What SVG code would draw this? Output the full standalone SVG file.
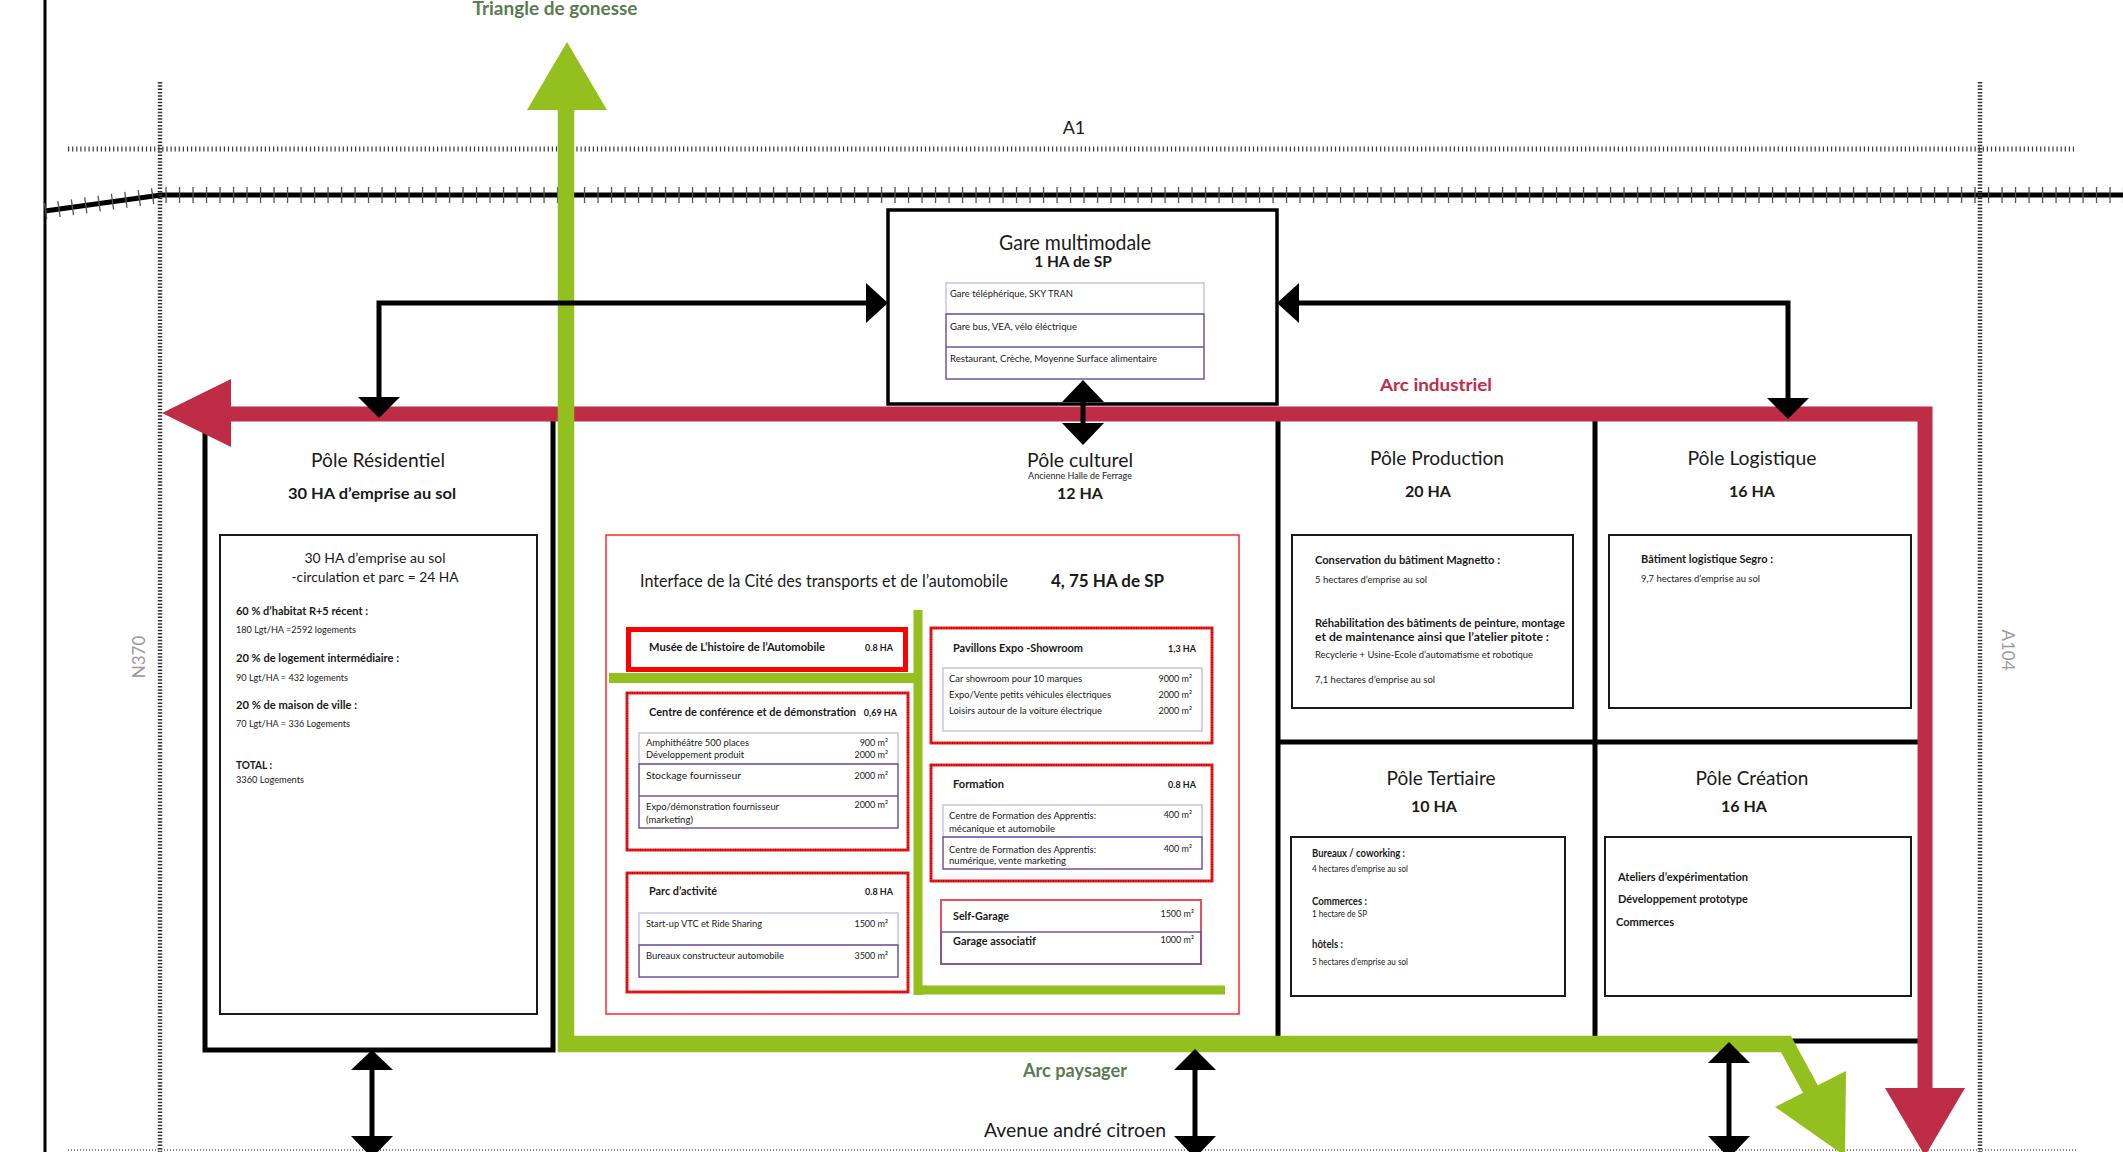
<svg xmlns="http://www.w3.org/2000/svg" width="2123" height="1152" viewBox="0 0 2123 1152">
<defs>
<style>
text{font-family:Lato,"Open Sans","Liberation Sans",sans-serif;fill:#1a1a1a}
.c{text-anchor:middle}
.e{text-anchor:end}
.t{font-size:19px}
.h{font-size:16px;font-weight:bold}
.lb{font-size:10.5px;font-weight:bold}
.s{font-size:9px}
.grn{fill:#5b7b52;font-weight:bold}
.wall{stroke:#000;stroke-width:5;fill:none}
.ibox{fill:#fff;stroke:#1a1a1a;stroke-width:2}
.rbox{fill:#fff;stroke:#f41c1c;stroke-width:3}
.rdot{fill:none;stroke:#6a0000;stroke-width:1;stroke-dasharray:1 1.5}
.tab{fill:#fff;stroke:#c9c3e3;stroke-width:1.5}
.tabp{fill:none;stroke:#6f559e;stroke-width:1.5}
.arr{stroke:#000;stroke-width:5;fill:none}
.hd{fill:#000}
.gl{stroke:#93c01f;fill:none}
.red{stroke:#be2d45;fill:none}
.road{fill:none}
</style>
</defs>
<rect x="0" y="0" width="2123" height="1152" fill="#fff"/>

<g id="roads">
  <line x1="45" y1="0" x2="45" y2="1152" stroke="#000" stroke-width="3"/>
  <path d="M45,211 L161,195 H2123" stroke="#000" stroke-width="5" class="road"/>
  <path d="M45,211 L161,195 H2123" stroke="#555" stroke-width="16" stroke-dasharray="1.3 12.2" class="road"/>
  <line x1="68" y1="149" x2="2074" y2="149" stroke="#3a3a3a" stroke-width="5" stroke-dasharray="1.2 2.9"/>
  <line x1="160" y1="82" x2="160" y2="1152" stroke="#333" stroke-width="4.5" stroke-dasharray="1.5 1.8"/>
  <line x1="1980" y1="82" x2="1980" y2="1152" stroke="#333" stroke-width="4.5" stroke-dasharray="1.5 1.8"/>
  <line x1="68" y1="1150" x2="2077" y2="1150" stroke="#888" stroke-width="2" stroke-dasharray="1 2"/>
  <text x="1074" y="134" class="c" font-size="18">A1</text>
  <text x="1075" y="1137" class="c" font-size="20" textLength="182" lengthAdjust="spacingAndGlyphs">Avenue andré citroen</text>
  <text transform="translate(145,657) rotate(-90)" class="c" font-size="17" style="fill:#9a9a9a">N370</text>
  <text transform="translate(2002,650) rotate(90)" class="c" font-size="17" style="fill:#9a9a9a">A104</text>
</g>

<g id="walls">
  <rect id="pole-residentiel-frame" x="205" y="418" width="348" height="632" class="wall"/>
  <line x1="1278" y1="420" x2="1278" y2="1037" class="wall"/>
  <line x1="1595" y1="420" x2="1595" y2="1037" class="wall"/>
  <line x1="1278" y1="742" x2="1918" y2="742" class="wall"/>
  <line x1="1787" y1="1041" x2="1918" y2="1041" class="wall"/>
</g>

<g id="gare-multimodale">
  <rect x="888" y="210" width="389" height="194" fill="#fff" stroke="#000" stroke-width="3.5"/>
  <text x="1075" y="250" class="c" font-size="21.5" textLength="152" lengthAdjust="spacingAndGlyphs">Gare multimodale</text>
  <text x="1073" y="267" class="c" font-size="15.5" font-weight="bold">1 HA de SP</text>
  <rect x="946" y="283" width="258" height="31" class="tab"/>
  <rect x="946" y="314" width="258" height="65" class="tabp"/>
  <line x1="946" y1="347" x2="1204" y2="347" class="tabp"/>
  <text x="950" y="297" class="s" textLength="123" lengthAdjust="spacingAndGlyphs">Gare téléphérique, SKY TRAN</text>
  <text x="950" y="330" class="s" textLength="127" lengthAdjust="spacingAndGlyphs">Gare bus, VEA, vélo éléctrique</text>
  <text x="950" y="362" class="s" textLength="207" lengthAdjust="spacingAndGlyphs">Restaurant, Crèche, Moyenne Surface alimentaire</text>
</g>

<g id="pole-residentiel">
  <text x="378" y="467" class="c" font-size="20" textLength="134" lengthAdjust="spacingAndGlyphs">Pôle Résidentiel</text>
  <text x="372" y="499" class="c" font-size="15.5" font-weight="bold" textLength="168" lengthAdjust="spacingAndGlyphs">30 HA d’emprise au sol</text>
  <rect x="220" y="535" width="317" height="479" class="ibox"/>
  <text x="375" y="563" class="c" font-size="13.5" textLength="141" lengthAdjust="spacingAndGlyphs">30 HA d’emprise au sol</text>
  <text x="375" y="582" class="c" font-size="13.5" textLength="167" lengthAdjust="spacingAndGlyphs">-circulation et parc = 24 HA</text>
  <text x="236" y="615" class="lb" textLength="132" lengthAdjust="spacingAndGlyphs">60 % d’habitat R+5 récent :</text>
  <text x="236" y="633" class="s" textLength="120" lengthAdjust="spacingAndGlyphs">180 Lgt/HA =2592 logements</text>
  <text x="236" y="662" class="lb" textLength="163" lengthAdjust="spacingAndGlyphs">20 % de logement intermédiaire :</text>
  <text x="236" y="681" class="s" textLength="112" lengthAdjust="spacingAndGlyphs">90 Lgt/HA = 432 logements</text>
  <text x="236" y="709" class="lb" textLength="121" lengthAdjust="spacingAndGlyphs">20 % de maison de ville :</text>
  <text x="236" y="727" class="s" textLength="114" lengthAdjust="spacingAndGlyphs">70 Lgt/HA = 336 Logements</text>
  <text x="236" y="769" class="lb" textLength="36" lengthAdjust="spacingAndGlyphs">TOTAL :</text>
  <text x="236" y="783" class="s" textLength="68" lengthAdjust="spacingAndGlyphs">3360 Logements</text>
</g>

<g id="pole-culturel">
  <text x="1080" y="467" class="c t" textLength="106" lengthAdjust="spacingAndGlyphs">Pôle culturel</text>
  <text x="1080" y="479" class="c s">Ancienne Halle de Ferrage</text>
  <text x="1080" y="499" class="c h">12 HA</text>
  <rect x="606" y="535" width="633" height="479" fill="none" stroke="#ff2a2a" stroke-width="1.5"/>
  <text x="640" y="587" font-size="17" textLength="368" lengthAdjust="spacingAndGlyphs">Interface de la Cité des transports et de l’automobile</text>
  <text x="1051" y="587" font-size="16.5" font-weight="bold" textLength="113" lengthAdjust="spacingAndGlyphs">4, 75 HA de SP</text>
  <line x1="918" y1="610" x2="918" y2="995" class="gl" stroke-width="9"/>
  <line x1="609" y1="678" x2="918" y2="678" class="gl" stroke-width="10"/>
  <line x1="914" y1="990" x2="1225" y2="990" class="gl" stroke-width="9"/>
</g>

<g id="musee">
  <rect x="628.5" y="629.5" width="277" height="40" fill="#fff" stroke="#ff0000" stroke-width="5"/>
  <text x="649" y="651" class="lb" textLength="176" lengthAdjust="spacingAndGlyphs">Musée de L’histoire de l’Automobile</text>
  <text x="893" y="651" class="e" font-size="9" font-weight="bold">0.8 HA</text>
</g>

<g id="centre-conference">
  <rect x="627" y="693" width="281" height="157" class="rbox"/>
  <rect x="627" y="693" width="281" height="157" class="rdot"/>
  <text x="649" y="716" class="lb" textLength="207" lengthAdjust="spacingAndGlyphs">Centre de conférence et de démonstration</text>
  <text x="897" y="716" class="e" font-size="9" font-weight="bold">0,69 HA</text>
  <rect x="639" y="733" width="259" height="31" class="tab"/>
  <rect x="639" y="764" width="259" height="64" class="tabp"/>
  <line x1="639" y1="796" x2="898" y2="796" class="tabp"/>
  <text x="646" y="746" class="s" textLength="103" lengthAdjust="spacingAndGlyphs">Amphithéâtre 500 places</text>
  <text x="646" y="758" class="s" textLength="98" lengthAdjust="spacingAndGlyphs">Développement produit</text>
  <text x="646" y="779" class="s" textLength="95" lengthAdjust="spacingAndGlyphs">Stockage fournisseur</text>
  <text x="646" y="810" class="s" textLength="133" lengthAdjust="spacingAndGlyphs">Expo/démonstration fournisseur</text>
  <text x="646" y="823" class="s" textLength="47" lengthAdjust="spacingAndGlyphs">(marketing)</text>
  <text x="888" y="746" class="e s">900 m²</text>
  <text x="888" y="758" class="e s">2000 m²</text>
  <text x="888" y="779" class="e s">2000 m²</text>
  <text x="888" y="808" class="e s">2000 m²</text>
</g>

<g id="parc-activite">
  <rect x="627" y="873" width="281" height="119" class="rbox"/>
  <rect x="627" y="873" width="281" height="119" class="rdot"/>
  <text x="649" y="895" class="lb" textLength="68" lengthAdjust="spacingAndGlyphs">Parc d’activité</text>
  <text x="893" y="895" class="e" font-size="9" font-weight="bold">0.8 HA</text>
  <rect x="639" y="913" width="259" height="32" class="tab"/>
  <rect x="639" y="945" width="259" height="32" class="tabp"/>
  <text x="646" y="927" class="s" textLength="116" lengthAdjust="spacingAndGlyphs">Start-up VTC et Ride Sharing</text>
  <text x="646" y="959" class="s" textLength="138" lengthAdjust="spacingAndGlyphs">Bureaux constructeur automobile</text>
  <text x="888" y="927" class="e s">1500 m²</text>
  <text x="888" y="959" class="e s">3500 m²</text>
</g>

<g id="pavillons-expo">
  <rect x="931" y="628" width="281" height="115" class="rbox"/>
  <rect x="931" y="628" width="281" height="115" class="rdot"/>
  <text x="953" y="652" class="lb" textLength="130" lengthAdjust="spacingAndGlyphs">Pavillons Expo -Showroom</text>
  <text x="1196" y="652" class="e" font-size="9" font-weight="bold">1,3 HA</text>
  <rect x="943" y="668" width="259" height="63" class="tab"/>
  <text x="949" y="682" class="s" textLength="133" lengthAdjust="spacingAndGlyphs">Car showroom pour 10 marques</text>
  <text x="949" y="698" class="s" textLength="162" lengthAdjust="spacingAndGlyphs">Expo/Vente petits véhicules électriques</text>
  <text x="949" y="714" class="s" textLength="153" lengthAdjust="spacingAndGlyphs">Loisirs autour de la voiture électrique</text>
  <text x="1192" y="682" class="e s">9000 m²</text>
  <text x="1192" y="698" class="e s">2000 m²</text>
  <text x="1192" y="714" class="e s">2000 m²</text>
</g>

<g id="formation">
  <rect x="931" y="765" width="281" height="116" class="rbox"/>
  <rect x="931" y="765" width="281" height="116" class="rdot"/>
  <text x="953" y="788" class="lb" textLength="51" lengthAdjust="spacingAndGlyphs">Formation</text>
  <text x="1196" y="788" class="e" font-size="9" font-weight="bold">0.8 HA</text>
  <rect x="943" y="805" width="259" height="32" class="tab"/>
  <rect x="943" y="837" width="259" height="32" class="tabp"/>
  <text x="949" y="819" class="s" textLength="147" lengthAdjust="spacingAndGlyphs">Centre de Formation des Apprentis:</text>
  <text x="949" y="832" class="s" textLength="106" lengthAdjust="spacingAndGlyphs">mécanique et automobile</text>
  <text x="949" y="853" class="s" textLength="147" lengthAdjust="spacingAndGlyphs">Centre de Formation des Apprentis:</text>
  <text x="949" y="864" class="s" textLength="117" lengthAdjust="spacingAndGlyphs">numérique, vente marketing</text>
  <text x="1192" y="818" class="e s">400 m²</text>
  <text x="1192" y="852" class="e s">400 m²</text>
</g>

<g id="self-garage">
  <rect x="941" y="900" width="260" height="64" fill="#fff" stroke="#e8505e" stroke-width="2"/>
  <rect x="941" y="932" width="260" height="32" class="tabp"/>
  <text x="953" y="920" font-size="11.5" font-weight="bold" textLength="56" lengthAdjust="spacingAndGlyphs">Self-Garage</text>
  <text x="953" y="945" font-size="11.5" font-weight="bold" textLength="83" lengthAdjust="spacingAndGlyphs">Garage associatif</text>
  <text x="1194" y="917" class="e s">1500 m²</text>
  <text x="1194" y="943" class="e s">1000 m²</text>
</g>

<g id="pole-production">
  <text x="1437" y="465" class="c t" textLength="134" lengthAdjust="spacingAndGlyphs">Pôle Production</text>
  <text x="1428" y="497" class="c h">20 HA</text>
  <rect x="1292" y="535" width="281" height="173" class="ibox"/>
  <text x="1315" y="564" class="lb" textLength="185" lengthAdjust="spacingAndGlyphs">Conservation du bâtiment Magnetto :</text>
  <text x="1315" y="583" class="s" textLength="112" lengthAdjust="spacingAndGlyphs">5 hectares d’emprise au sol</text>
  <text x="1315" y="627" class="lb" textLength="250" lengthAdjust="spacingAndGlyphs">Réhabilitation des bâtiments de peinture, montage</text>
  <text x="1315" y="641" class="lb" textLength="234" lengthAdjust="spacingAndGlyphs">et de maintenance ainsi que l’atelier pitote :</text>
  <text x="1315" y="658" class="s" textLength="218" lengthAdjust="spacingAndGlyphs">Recyclerie + Usine-Ecole d’automatisme et robotique</text>
  <text x="1315" y="683" class="s" textLength="120" lengthAdjust="spacingAndGlyphs">7,1 hectares d’emprise au sol</text>
</g>

<g id="pole-logistique">
  <text x="1752" y="465" class="c t" textLength="129" lengthAdjust="spacingAndGlyphs">Pôle Logistique</text>
  <text x="1752" y="497" class="c h">16 HA</text>
  <rect x="1609" y="535" width="302" height="173" class="ibox"/>
  <text x="1641" y="563" class="lb" textLength="132" lengthAdjust="spacingAndGlyphs">Bâtiment logistique Segro :</text>
  <text x="1641" y="582" class="s" textLength="119" lengthAdjust="spacingAndGlyphs">9,7 hectares d’emprise au sol</text>
</g>

<g id="pole-tertiaire">
  <text x="1441" y="785" class="c t" textLength="109" lengthAdjust="spacingAndGlyphs">Pôle Tertiaire</text>
  <text x="1434" y="812" class="c h">10 HA</text>
  <rect x="1291" y="837" width="274" height="159" class="ibox"/>
  <text x="1312" y="857" class="lb" textLength="93" lengthAdjust="spacingAndGlyphs">Bureaux / coworking :</text>
  <text x="1312" y="872" font-size="8.5" textLength="96" lengthAdjust="spacingAndGlyphs">4 hectares d’emprise au sol</text>
  <text x="1312" y="905" class="lb" textLength="55" lengthAdjust="spacingAndGlyphs">Commerces :</text>
  <text x="1312" y="917" font-size="8.5" textLength="55" lengthAdjust="spacingAndGlyphs">1 hectare de SP</text>
  <text x="1312" y="948" class="lb" textLength="31" lengthAdjust="spacingAndGlyphs">hôtels :</text>
  <text x="1312" y="965" font-size="8.5" textLength="96" lengthAdjust="spacingAndGlyphs">5 hectares d’emprise au sol</text>
</g>

<g id="pole-creation">
  <text x="1752" y="785" class="c t" textLength="113" lengthAdjust="spacingAndGlyphs">Pôle Création</text>
  <text x="1744" y="812" class="c h">16 HA</text>
  <rect x="1605" y="837" width="306" height="159" class="ibox"/>
  <text x="1618" y="881" class="lb" textLength="130" lengthAdjust="spacingAndGlyphs">Ateliers d’expérimentation</text>
  <text x="1618" y="903" class="lb" textLength="130" lengthAdjust="spacingAndGlyphs">Développement prototype</text>
  <text x="1616" y="926" class="lb" textLength="58" lengthAdjust="spacingAndGlyphs">Commerces</text>
</g>

<g id="connectors">
  <g id="arc-industriel">
    <path d="M225,414 H1925 V1092" class="red" stroke-width="15" stroke-linejoin="miter"/>
    <polygon points="231,379 231,447 162,413" fill="#be2d45"/>
    <polygon points="1885,1088 1965,1088 1925,1156" fill="#be2d45"/>
    <text x="1436" y="391" class="c" font-size="17" font-weight="bold" style="fill:#be2d45" textLength="112" lengthAdjust="spacingAndGlyphs">Arc industriel</text>
  </g>
  <g id="arc-paysager">
    <path d="M566,108 V1044 H1786 L1812,1092" class="gl" stroke-width="16.5" stroke-linejoin="miter"/>
    <polygon points="527,110 607,110 567,42" fill="#93c01f"/>
    <polygon points="1846,1071 1775,1107 1845,1156" fill="#93c01f"/>
    <text x="555" y="15" class="c grn" font-size="19" textLength="165" lengthAdjust="spacingAndGlyphs">Triangle de gonesse</text>
    <text x="1075" y="1077" class="c grn" font-size="18" textLength="104" lengthAdjust="spacingAndGlyphs">Arc paysager</text>
  </g>
  <g id="arrow-gare-residentiel">
    <path d="M866,303 H379 V398" class="arr"/>
    <polygon points="866,283 866,323 888,303" class="hd"/>
    <polygon points="358,397 400,397 379,418" class="hd"/>
  </g>
  <g id="arrow-gare-logistique">
    <path d="M1299,303 H1788 V399" class="arr"/>
    <polygon points="1299,283 1299,323 1277,303" class="hd"/>
    <polygon points="1767,398 1809,398 1788,419" class="hd"/>
  </g>
  <g id="arrow-gare-culturel">
    <line x1="1083" y1="400" x2="1083" y2="425" class="arr"/>
    <polygon points="1062,402 1104,402 1083,380" class="hd"/>
    <polygon points="1062,423 1104,423 1083,445" class="hd"/>
  </g>
  <g id="arrow-avenue-1">
    <line x1="372" y1="1068" x2="372" y2="1138" class="arr"/>
    <polygon points="351,1070 393,1070 372,1050" class="hd"/>
    <polygon points="351,1136 393,1136 372,1158" class="hd"/>
  </g>
  <g id="arrow-avenue-2">
    <line x1="1195" y1="1068" x2="1195" y2="1138" class="arr"/>
    <polygon points="1174,1070 1216,1070 1195,1049" class="hd"/>
    <polygon points="1174,1136 1216,1136 1195,1158" class="hd"/>
  </g>
  <g id="arrow-avenue-3">
    <line x1="1729" y1="1061" x2="1729" y2="1138" class="arr"/>
    <polygon points="1708,1063 1750,1063 1729,1042" class="hd"/>
    <polygon points="1708,1136 1750,1136 1729,1158" class="hd"/>
  </g>
</g>
</svg>
